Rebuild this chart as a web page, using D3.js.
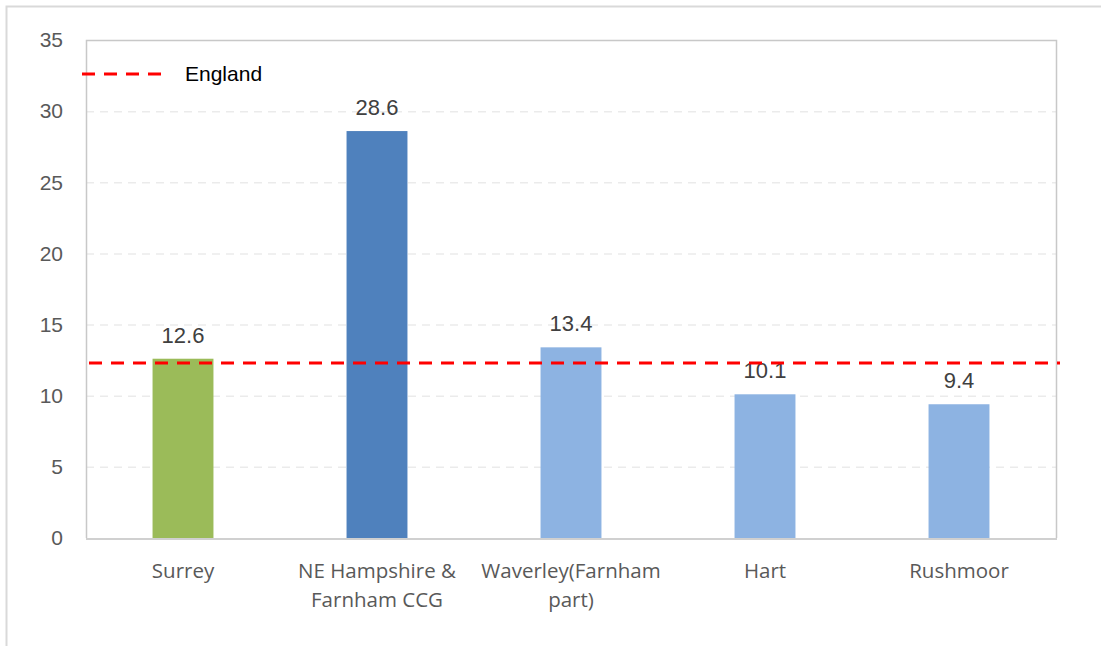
<!DOCTYPE html>
<html>
<head>
<meta charset="utf-8">
<script src="https://cdn.jsdelivr.net/npm/d3@7"></script>
<style>
  body { margin: 0; background: #fff; }
  svg { display: block; }
</style>
</head>
<body>
<svg id="chart"></svg>
<script>
const categories = [['Surrey'], ['NE Hampshire &', 'Farnham CCG'], ['Waverley(Farnham', 'part)'], ['Hart'], ['Rushmoor']];
const values = [12.6, 28.6, 13.4, 10.1, 9.4];
const barColors = ['#9bbb59', '#4f81bd', '#8db3e2', '#8db3e2', '#8db3e2'];
const englandValue = 12.3;
const yTicks = [0, 5, 10, 15, 20, 25, 30, 35];

const width = 1101;
const height = 646;
const padLeft = 86;
const padRight = 1056;
const padTop = 40;
const padBot = 538;

const svg = d3.select('#chart').attr('width', width).attr('height', height);

// outer frame
svg.append('path')
  .attr('d', `M6.5,646 V6.5 H1101`)
  .attr('fill', 'none')
  .attr('stroke', '#d9d9d9')
  .attr('stroke-width', 2);

const keys = categories.map(c => c.join(' '));

const xScale = d3.scaleBand()
  .domain(keys)
  .range([padLeft, padRight])
  .paddingInner(0.686)
  .paddingOuter(0.343);

const yScale = d3.scaleLinear()
  .domain([0, 35])
  .range([padBot, padTop]);

// gridlines
svg.append('g')
  .selectAll('line')
  .data(yTicks.filter(t => t > 0 && t < 35))
  .enter()
  .append('line')
  .attr('x1', padLeft)
  .attr('x2', padRight)
  .attr('y1', d => yScale(d) + 0.5)
  .attr('y2', d => yScale(d) + 0.5)
  .attr('stroke', '#ebebeb')
  .attr('stroke-width', 1.5)
  .attr('stroke-dasharray', '8,6');

// plot area border (top, left, right)
svg.append('path')
  .attr('d', `M${padLeft + 0.5},${padBot} V${padTop + 0.5} H${padRight + 0.5} V${padBot}`)
  .attr('fill', 'none')
  .attr('stroke', '#c8c8c8')
  .attr('stroke-width', 1.5);

// bars
svg.append('g')
  .selectAll('rect')
  .data(values)
  .enter()
  .append('rect')
  .attr('x', (d, i) => xScale(keys[i]))
  .attr('y', d => yScale(d))
  .attr('width', xScale.bandwidth())
  .attr('height', d => yScale(0) - yScale(d))
  .attr('fill', (d, i) => barColors[i]);

// value labels
svg.append('g')
  .selectAll('text')
  .data(values)
  .enter()
  .append('text')
  .attr('x', (d, i) => xScale(keys[i]) + xScale.bandwidth() / 2)
  .attr('y', d => yScale(d) - 16)
  .attr('text-anchor', 'middle')
  .attr('font-family', 'Liberation Sans, Arial, sans-serif')
  .attr('font-size', 22)
  .attr('fill', '#404040')
  .text(d => d.toFixed(1));

// bottom axis line
svg.append('line')
  .attr('x1', padLeft)
  .attr('x2', padRight + 1)
  .attr('y1', padBot + 1)
  .attr('y2', padBot + 1)
  .attr('stroke', '#d0d0d0')
  .attr('stroke-width', 2);

// England line
svg.append('line')
  .attr('x1', 89)
  .attr('x2', 1060)
  .attr('y1', yScale(englandValue))
  .attr('y2', yScale(englandValue))
  .attr('stroke', '#ff0000')
  .attr('stroke-width', 3)
  .attr('stroke-dasharray', '13,9');

// y axis labels
const leftAxis = d3.axisLeft(yScale).tickValues(yTicks).tickSize(0).tickPadding(23);
const yAxis = svg.append('g')
  .attr('transform', `translate(${padLeft}, 0)`)
  .call(leftAxis);
yAxis.select('.domain').remove();
yAxis.selectAll('text')
  .attr('font-family', 'Liberation Sans, Arial, sans-serif')
  .attr('font-size', 21)
  .attr('fill', '#595959');

// x axis labels
const xLabels = svg.append('g')
  .selectAll('text')
  .data(categories)
  .enter()
  .append('text')
  .attr('x', (d, i) => xScale(keys[i]) + xScale.bandwidth() / 2)
  .attr('y', 578)
  .attr('text-anchor', 'middle')
  .attr('font-family', 'Open Sans, sans-serif')
  .attr('font-size', 20.5)
  .attr('fill', '#595959');
xLabels.selectAll('tspan')
  .data(d => d)
  .enter()
  .append('tspan')
  .attr('x', function () { return d3.select(this.parentNode).attr('x'); })
  .attr('dy', (d, i) => (i === 0 ? 0 : 28.5))
  .text(d => d);

// legend
const legend = svg.append('g');
legend.append('line')
  .attr('x1', 82)
  .attr('x2', 162)
  .attr('y1', 74)
  .attr('y2', 74)
  .attr('stroke', '#ff0000')
  .attr('stroke-width', 3)
  .attr('stroke-dasharray', '13,9');
legend.append('text')
  .attr('x', 185)
  .attr('y', 81)
  .attr('font-family', 'Liberation Sans, Arial, sans-serif')
  .attr('font-size', 21)
  .attr('fill', '#000')
  .text('England');
</script>
</body>
</html>
